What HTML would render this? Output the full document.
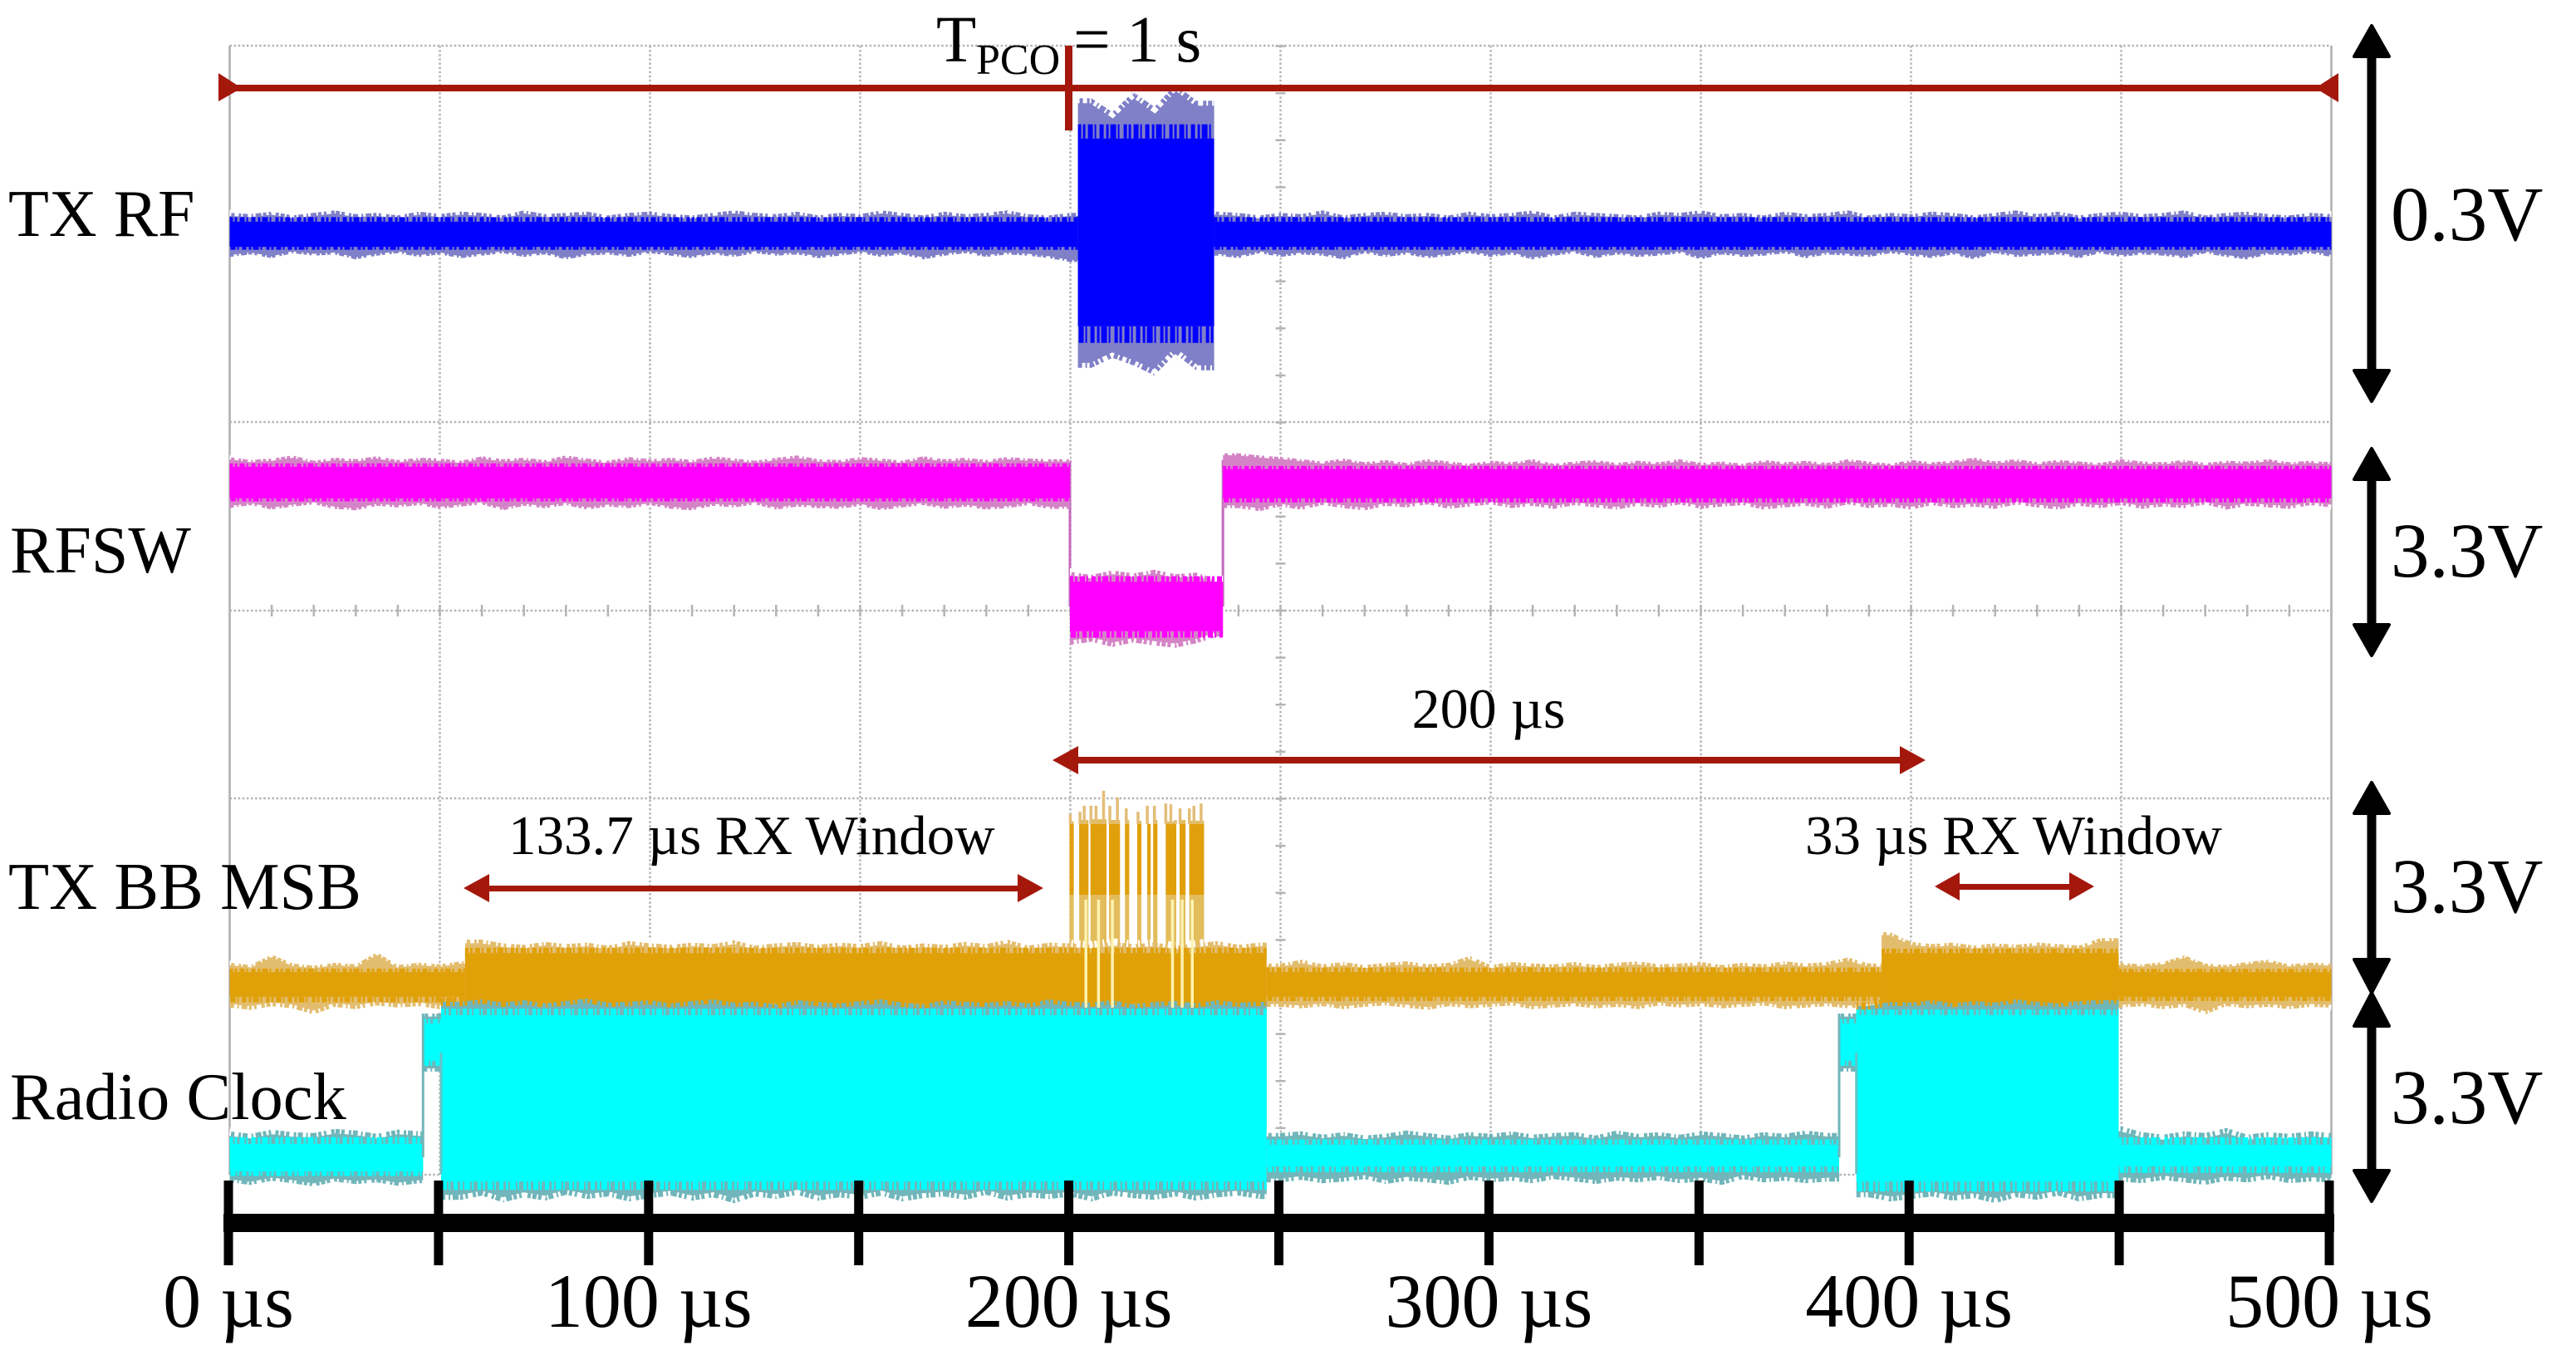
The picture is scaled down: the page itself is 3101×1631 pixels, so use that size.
<!DOCTYPE html>
<html lang="en">
<head>
<meta charset="utf-8">
<title>Radio timing oscilloscope capture</title>
<style>
  html, body { margin: 0; padding: 0; background: #ffffff; }
  svg { display: block; }
  text { font-family: "Liberation Serif", serif; fill: #000000; }
</style>
</head>
<body>
<svg id="chart" xmlns="http://www.w3.org/2000/svg" width="3101" height="1631" viewBox="0 0 3101 1631">
  <rect x="0" y="0" width="3101" height="1631" fill="#ffffff"/>
  <g id="grid"></g>
  <g id="traces"></g>

  <g>
    <rect x="263" y="102" width="2552" height="8" fill="#a4180c"/>
    <polygon points="263,88 263,122 291,106" fill="#a4180c"/>
    <polygon points="2815,88 2815,123 2787,106" fill="#a4180c"/>
    <rect x="1282" y="55" width="9" height="102" fill="#a4180c"/>
    <text font-size="79" y="74"><tspan x="1127">T</tspan><tspan x="1175" y="89" font-size="52">PCO</tspan><tspan x="1292" y="74">= 1 s</tspan></text>
  </g>

  <g>
    <rect x="1290" y="911" width="1000" height="8" fill="#a4180c"/>
    <polygon points="1267,915 1298,898 1298,932" fill="#a4180c"/>
    <polygon points="2318,915 2287,898 2287,932" fill="#a4180c"/>
    <text font-size="68" x="1792" y="876" text-anchor="middle">200 µs</text>

    <rect x="580" y="1066" width="650" height="7" fill="#a4180c"/>
    <polygon points="558,1069 589,1052 589,1086" fill="#a4180c"/>
    <polygon points="1256,1069 1225,1052 1225,1086" fill="#a4180c"/>
    <text font-size="67" x="612" y="1028">133.7 µs RX Window</text>

    <rect x="2350" y="1064" width="150" height="7" fill="#a4180c"/>
    <polygon points="2329,1067 2359,1050 2359,1084" fill="#a4180c"/>
    <polygon points="2521,1067 2491,1050 2491,1084" fill="#a4180c"/>
    <text font-size="67" x="2173" y="1028">33 µs RX Window</text>
  </g>

  <g>
    <text font-size="80" x="10" y="284">TX RF</text>
    <text font-size="80" x="12" y="689">RFSW</text>
    <text font-size="80.5" x="10" y="1094">TX BB MSB</text>
    <text font-size="80.5" x="12" y="1347">Radio Clock</text>
  </g>

  <g fill="#000000" stroke="#000000" stroke-width="4" stroke-linejoin="round">
    <g>
      <rect x="2851.5" y="60" width="7" height="395"/>
      <polygon points="2855,31 2876,68 2834,68"/><polygon points="2855,483 2876,446 2834,446"/>
    </g>
    <g>
      <rect x="2851.5" y="568" width="7" height="193"/>
      <polygon points="2855,540 2876,577 2834,577"/><polygon points="2855,789 2876,752 2834,752"/>
    </g>
    <g>
      <rect x="2851.5" y="970" width="7" height="195"/>
      <polygon points="2855,942 2876,979 2834,979"/><polygon points="2855,1195 2876,1155 2834,1155"/>
    </g>
    <g>
      <rect x="2851.5" y="1225" width="7" height="193"/>
      <polygon points="2855,1195 2876,1235 2834,1235"/><polygon points="2855,1446 2876,1409 2834,1409"/>
    </g>
  </g>
  <g>
    <text font-size="93" x="2878" y="289">0.3V</text>
    <text font-size="93" x="2878" y="694">3.3V</text>
    <text font-size="93" x="2878" y="1098">3.3V</text>
    <text font-size="93" x="2878" y="1352">3.3V</text>
  </g>

  <g id="xaxis"></g>
</svg>

<script>
// ---- Axis data ----
const axisTickTimes = [0, 50, 100, 150, 200, 250, 300, 350, 400, 450, 500];
const axisLabelTimes = [0, 100, 200, 300, 400, 500];
const axisLabels = ["0 µs", "100 µs", "200 µs", "300 µs", "400 µs", "500 µs"];
const sampleStep = 5; // µs between envelope samples below

// ---- TX RF (mV) ----
const txRfEdges = [0, 201.8, 234.2, 500];
const txRfCoreHi = [10, 76, 10];
const txRfCoreLo = [-10, -73, -10];
const txRfFringeHi = [
  17,16,18,15,17,19,16,17,15,18,
  16,18,17,15,19,16,17,18,15,17,
  18,16,15,17,19,17,16,18,15,17,
  16,19,17,15,18,16,17,19,16,15,
  17,108,97,113,101,119,106,18,17,15,
  17,16,19,15,17,18,16,17,15,18,
  16,17,19,15,18,17,16,15,18,17,
  19,16,17,15,18,16,17,19,15,17,
  16,18,17,15,17,19,16,18,15,17,
  18,16,17,19,15,17,18,16,15,17,
  16];
const txRfFringeLo = [
  -18,-16,-19,-15,-17,-16,-20,-17,-15,-18,
  -16,-19,-17,-15,-18,-16,-20,-17,-16,-18,
  -15,-17,-19,-16,-18,-15,-17,-16,-19,-17,
  -15,-18,-16,-20,-17,-15,-18,-16,-17,-19,
  -22,-106,-98,-104,-112,-95,-108,-17,-19,-15,
  -18,-16,-17,-20,-15,-18,-16,-19,-17,-15,
  -18,-16,-20,-17,-15,-19,-16,-18,-17,-15,
  -20,-16,-18,-17,-15,-19,-16,-17,-18,-15,
  -17,-19,-16,-20,-15,-18,-17,-16,-19,-15,
  -18,-16,-17,-19,-15,-18,-20,-16,-17,-15,
  -18];

// ---- RFSW (V) ----
const rfswEdges = [0, 199.9, 236.3, 500];
const rfswCoreHi = [3.72, 0.66, 3.66];
const rfswCoreLo = [2.88, -0.66, 2.88];
const rfswFringeHi = [
  3.98,3.90,3.94,4.02,3.88,3.96,3.92,4.00,3.90,3.96,
  3.94,3.88,4.00,3.92,3.96,3.90,4.02,3.94,3.88,3.98,
  3.92,3.96,3.90,4.00,3.94,3.88,3.96,4.02,3.92,3.90,
  3.98,3.94,3.88,4.00,3.92,3.96,3.90,3.98,3.94,3.92,
  0.92,0.84,0.96,0.88,0.98,0.86,0.90,0.72,4.08,4.02,
  3.98,3.92,3.86,3.94,3.84,3.90,3.82,3.92,3.86,3.80,
  3.88,3.84,3.92,3.80,3.86,3.90,3.82,3.88,3.84,3.92,
  3.82,3.86,3.80,3.90,3.84,3.88,3.82,3.92,3.86,3.80,
  3.90,3.84,3.88,3.96,3.86,3.92,3.84,3.90,3.86,3.82,
  3.92,3.86,3.84,3.90,3.82,3.88,3.86,3.92,3.84,3.88,
  3.84];
const rfswFringeLo = [
  2.62,2.70,2.58,2.66,2.72,2.60,2.56,2.68,2.64,2.70,
  2.60,2.66,2.72,2.56,2.68,2.62,2.70,2.58,2.66,2.62,
  2.70,2.60,2.56,2.68,2.64,2.72,2.58,2.66,2.62,2.60,
  2.68,2.56,2.64,2.70,2.60,2.66,2.58,2.62,2.70,2.60,
  -1.02,-0.94,-1.08,-0.96,-1.04,-1.10,-0.98,-0.80,2.62,2.54,
  2.66,2.58,2.70,2.62,2.56,2.68,2.64,2.72,2.60,2.66,
  2.72,2.62,2.68,2.60,2.70,2.64,2.58,2.68,2.62,2.72,
  2.60,2.66,2.70,2.58,2.64,2.68,2.60,2.72,2.62,2.66,
  2.58,2.70,2.62,2.66,2.60,2.72,2.64,2.58,2.68,2.62,
  2.70,2.60,2.66,2.62,2.72,2.58,2.68,2.64,2.60,2.70,
  2.64];
const rfswEdgeTimes = [199.9, 236.3];

// ---- TX BB MSB (V) ----
const bbEdges = [0, 56, 246.7, 393, 449.4, 500];
const bbCoreHi = [0.33, 0.84, 0.33, 0.84, 0.33];
const bbCoreLo = [-0.33, -0.50, -0.33, -0.50, -0.33];
const bbFringeHi = [
  0.58,0.52,0.80,0.56,0.50,0.58,0.54,0.86,0.52,0.58,
  0.54,0.62,1.20,1.10,1.06,1.14,1.08,1.12,1.04,1.16,
  1.10,1.06,1.12,1.08,1.18,1.04,1.10,1.14,1.06,1.12,
  1.08,1.16,1.04,1.10,1.06,1.14,1.08,1.20,1.04,1.12,
  1.10,1.06,1.14,1.08,1.12,1.04,1.10,1.16,1.06,1.12,
  0.56,0.66,0.54,0.60,0.52,0.58,0.62,0.54,0.58,0.76,
  0.52,0.60,0.56,0.54,0.60,0.52,0.58,0.62,0.54,0.56,
  0.60,0.52,0.58,0.54,0.62,0.56,0.60,0.72,0.56,1.40,
  1.14,1.08,1.12,1.04,1.10,1.06,1.12,1.08,1.04,1.24,
  0.58,0.54,0.60,0.78,0.56,0.52,0.60,0.66,0.54,0.58,
  0.56];
const bbFringeLo = [
  -0.62,-0.68,-0.58,-0.64,-0.80,-0.60,-0.66,-0.56,-0.62,-0.58,
  -0.66,-0.60,-0.70,-0.66,-0.72,-0.68,-0.64,-0.70,-0.74,-0.66,
  -0.70,-0.64,-0.68,-0.72,-0.66,-0.70,-0.74,-0.64,-0.68,-0.70,
  -0.66,-0.72,-0.68,-0.64,-0.70,-0.66,-0.72,-0.68,-0.74,-0.66,
  -0.70,-0.66,-0.68,-0.72,-0.64,-0.70,-0.66,-0.72,-0.68,-0.70,
  -0.60,-0.64,-0.58,-0.66,-0.60,-0.56,-0.62,-0.68,-0.58,-0.64,
  -0.60,-0.56,-0.66,-0.62,-0.58,-0.64,-0.60,-0.66,-0.56,-0.62,
  -0.58,-0.64,-0.60,-0.56,-0.66,-0.62,-0.58,-0.64,-0.60,-0.72,
  -0.66,-0.70,-0.64,-0.72,-0.68,-0.66,-0.70,-0.64,-0.68,-0.66,
  -0.62,-0.58,-0.66,-0.60,-0.80,-0.58,-0.64,-0.60,-0.66,-0.60,
  -0.62];
const bbPulseStart = [199.8, 202.1, 204.8, 209.2, 213.0, 215.9, 218.3, 219.7, 222.7, 226.0, 228.3];
const bbPulseEnd = [200.8, 204.3, 208.6, 211.8, 214.0, 216.9, 219.1, 220.7, 225.2, 227.4, 231.8];
const bbPulseTop = [4.36, 4.40, 4.42, 4.40, 4.40, 4.38, 4.30, 4.40, 4.36, 4.40, 4.38];
const bbSpikeTimes = [200.0, 202.3, 203.3, 204.9, 206.1, 207.9, 209.4, 211.2, 213.3, 216.1, 218.3, 220.0, 222.7, 223.9, 225.0, 226.1, 228.3, 229.4, 231.1];
const bbSpikeTops = [4.56, 4.62, 4.78, 4.78, 4.78, 5.18, 4.78, 5.00, 4.71, 4.62, 4.78, 4.78, 4.84, 4.82, 4.40, 4.71, 4.71, 4.78, 4.84];
const bbBurstGapTimes = [203.7, 206.7, 210.0, 224.3, 226.6, 229.0];
const bbPulseCoreHi = 4.29;
const bbPulseCoreLo = 2.40;
const bbPulseBase = 0.78;
const bbGapTop = 2.27;
const bbGapBottom = -0.62;

// ---- Radio clock (V) ----
const clkEdges = [0, 46, 50.3, 246.7, 382.9, 387, 449.4, 500];
const clkCoreHi = [0.32, 3.20, 3.40, 0.30, 3.20, 3.40, 0.30];
const clkCoreLo = [-0.34, 2.31, -0.58, -0.22, 2.31, -0.58, -0.22];
const clkFringeHi = [
  0.62,0.56,0.66,0.60,0.58,0.68,0.64,0.56,0.66,0.62,
  3.44,3.72,3.78,3.70,3.76,3.68,3.74,3.80,3.70,3.72,
  3.76,3.68,3.74,3.78,3.70,3.72,3.66,3.76,3.72,3.68,
  3.74,3.78,3.70,3.66,3.76,3.72,3.70,3.74,3.68,3.78,
  3.72,3.70,3.76,3.66,3.72,3.74,3.68,3.76,3.70,3.72,
  0.58,0.62,0.54,0.60,0.52,0.56,0.64,0.58,0.52,0.60,
  0.56,0.62,0.54,0.58,0.60,0.52,0.64,0.56,0.60,0.54,
  0.62,0.58,0.52,0.60,0.56,0.64,0.58,3.44,3.62,3.72,
  3.70,3.76,3.68,3.74,3.70,3.78,3.72,3.68,3.74,3.76,
  0.74,0.60,0.54,0.62,0.58,0.70,0.54,0.60,0.56,0.62,
  0.58];
const clkFringeLo = [
  -0.60,-0.66,-0.56,-0.62,-0.70,-0.58,-0.64,-0.60,-0.68,-0.62,
  2.05,-1.02,-0.92,-1.08,-0.96,-1.04,-0.90,-1.00,-0.94,-1.06,
  -0.98,-0.92,-1.04,-0.96,-1.10,-0.94,-1.00,-0.90,-1.04,-0.96,
  -1.02,-0.92,-1.06,-0.98,-0.94,-1.02,-0.90,-1.04,-0.96,-1.00,
  -0.94,-1.06,-0.92,-0.98,-1.02,-0.94,-1.04,-0.96,-0.92,-1.00,
  -0.60,-0.54,-0.62,-0.58,-0.52,-0.64,-0.56,-0.60,-0.66,-0.54,
  -0.60,-0.56,-0.62,-0.52,-0.58,-0.64,-0.56,-0.60,-0.54,-0.62,
  -0.58,-0.66,-0.52,-0.60,-0.56,-0.62,-0.58,2.05,-0.96,-1.06,
  -1.00,-0.94,-1.04,-0.98,-1.10,-0.96,-1.02,-0.92,-1.06,-0.98,
  -0.58,-0.62,-0.54,-0.60,-0.66,-0.56,-0.60,-0.52,-0.62,-0.58,
  -0.60];
const clkRiseTimes = [46, 382.9];
const clkFallTimes = [50.3, 387];
const clkEdgeLow = 0;
const clkEdgeHigh = 3.44;
const clkFallTop = 2.5;
const clkFallBottom = -0.4;

// ---- Axis functions ----
function xGrid(t) { return 276.5 + 5.06 * t; }
function xTick(t) { return 275 + 5.058 * t; }
function yTxRf(mv) { return 282 - 1.517 * mv; }
function yRfsw(v) { return 730 - 45.2 * v; }
function yBb(v) { return 1185 - 45 * v; }
function yClk(v) { return 1393 - 50.3 * v; }
const gridTop = 55, gridBottom = 1414, gridCenterY = 735, gridRowHeight = 453;

// Stroke patterns that break up the band edges into fine noise teeth
const notchDash = '2 4 5 3 2 6 4 2 3 7 2 4 3 3 6 4 2 5';
const toothDash = '4 2 3 3 6 2 2 4 5 3 3 2 7 2 2 5';
const notchMaxWidth = 12;
const toothMaxDepth = 20;

const NS = 'http://www.w3.org/2000/svg';
function make(tag, parent, attrs) {
  const el = document.createElementNS(NS, tag);
  for (const k in attrs) el.setAttribute(k, attrs[k]);
  parent.appendChild(el);
  return el;
}
function ptsString(points) {
  return points.map(function (p) { return p[0].toFixed(1) + ',' + p[1].toFixed(1); }).join(' ');
}

// ---- Grid ----
const gridGroup = document.getElementById('grid');
const dotStyle = { stroke: '#b4b4b4', 'stroke-width': 2.5, 'stroke-dasharray': '2.5 2.6', fill: 'none' };

for (let i = 0; i <= 3; i++) {
  const y = gridTop + i * gridRowHeight;
  const line = make('line', gridGroup, Object.assign({ x1: xGrid(0), x2: xGrid(500), y1: y, y2: y }, dotStyle));
  
  
}
const centerH = make('line', gridGroup, Object.assign({ x1: xGrid(0), x2: xGrid(500), y1: gridCenterY, y2: gridCenterY }, dotStyle));



axisTickTimes.forEach(function (t) {
  const edge = (t === 0 || t === 500);
  const line = make('line', gridGroup, edge
    ? { x1: xGrid(t), x2: xGrid(t), y1: gridTop, y2: gridBottom, stroke: '#aeaeae', 'stroke-width': 2.5 }
    : Object.assign({ x1: xGrid(t), x2: xGrid(t), y1: gridTop, y2: gridBottom }, dotStyle));
  
  
});

for (let t = 0; t <= 500; t += 10) {
  const tick = make('line', gridGroup, { x1: xGrid(t), x2: xGrid(t), y1: gridCenterY - 7, y2: gridCenterY + 7, stroke: '#b4b4b4', 'stroke-width': 2.5 });
  
  
}
for (let i = -12; i <= 12; i++) {
  const y = gridCenterY + i * gridRowHeight / 8;
  const tick = make('line', gridGroup, { x1: xGrid(250) - 6, x2: xGrid(250) + 6, y1: y, y2: y, stroke: '#b4b4b4', 'stroke-width': 2.5 });
  
  
}

// ---- Traces ----
const traceGroup = document.getElementById('traces');

function drawTrace(name, edges, coreHi, coreLo, fringeHi, fringeLo, yFn, fringeColor, coreColor, notchHiColors) {
  const group = make('g', traceGroup, {});
  
  
  for (let s = 0; s < edges.length - 1; s++) {
    const a = edges[s], b = edges[s + 1];
    const i0 = Math.ceil(a / sampleStep), i1 = Math.floor(b / sampleStep);
    const top = [[xGrid(a), yFn(fringeHi[i0])]];
    const bot = [[xGrid(a), yFn(fringeLo[i0])]];
    for (let i = i0; i <= i1; i++) {
      top.push([xGrid(i * sampleStep), yFn(fringeHi[i])]);
      bot.push([xGrid(i * sampleStep), yFn(fringeLo[i])]);
    }
    top.push([xGrid(b), yFn(fringeHi[i1])]);
    bot.push([xGrid(b), yFn(fringeLo[i1])]);

    const fringe = make('polygon', group, { points: ptsString(top.concat(bot.slice().reverse())), fill: fringeColor });
    
    

    const yHi = yFn(coreHi[s]), yLo = yFn(coreLo[s]);
    const depthHi = Math.max(3, yHi - yFn(fringeHi[Math.round((i0 + i1) / 2)]));
    const depthLo = Math.max(3, yFn(fringeLo[Math.round((i0 + i1) / 2)]) - yLo);

    // notches cut out of the outer edge of the envelope
    const notchHi = make('polyline', group, {
      points: ptsString(top), fill: 'none',
      stroke: notchHiColors ? notchHiColors[s] : '#ffffff',
      'stroke-width': Math.min(depthHi * 0.6, notchMaxWidth), 'stroke-dasharray': notchDash
    });
    
    
    const notchLo = make('polyline', group, {
      points: ptsString(bot), fill: 'none', stroke: '#ffffff',
      'stroke-width': Math.min(depthLo * 0.6, notchMaxWidth), 'stroke-dasharray': notchDash, 'stroke-dashoffset': 17
    });
    
    

    const core = make('rect', group, { x: xGrid(a), width: xGrid(b) - xGrid(a), y: yHi, height: yLo - yHi, fill: coreColor });
    
    

    // teeth of the solid band reaching into the envelope
    const th = Math.min(depthHi * 0.45, toothMaxDepth), tl = Math.min(depthLo * 0.45, toothMaxDepth);
    const toothHi = make('line', group, {
      x1: xGrid(a), x2: xGrid(b), y1: yHi - th / 2, y2: yHi - th / 2,
      stroke: coreColor, 'stroke-width': th, 'stroke-dasharray': toothDash
    });
    
    
    const toothLo = make('line', group, {
      x1: xGrid(a), x2: xGrid(b), y1: yLo + tl / 2, y2: yLo + tl / 2,
      stroke: coreColor, 'stroke-width': tl, 'stroke-dasharray': toothDash, 'stroke-dashoffset': 11
    });
    
    
  }
  return group;
}

drawTrace('tx-rf', txRfEdges, txRfCoreHi, txRfCoreLo, txRfFringeHi, txRfFringeLo, yTxRf, '#8080c8', '#0000ff');

rfswEdgeTimes.forEach(function (t) {
  const edge = make('line', traceGroup, { x1: xGrid(t), x2: xGrid(t), y1: yRfsw(3.9), y2: yRfsw(0), stroke: '#c468bc', 'stroke-width': 3 });
  
  
});
drawTrace('rfsw', rfswEdges, rfswCoreHi, rfswCoreLo, rfswFringeHi, rfswFringeLo, yRfsw, '#d484c6', '#ff00ff');

bbPulseStart.forEach(function (start, i) {
  const end = bbPulseEnd[i];
  const light = make('rect', traceGroup, {
    x: xGrid(start), width: xGrid(end) - xGrid(start),
    y: yBb(bbPulseTop[i]), height: yBb(bbPulseBase) - yBb(bbPulseTop[i]), fill: '#e3bc5c'
  });
  
  
  const core = make('rect', traceGroup, {
    x: xGrid(start), width: xGrid(end) - xGrid(start),
    y: yBb(bbPulseCoreHi), height: yBb(bbPulseCoreLo) - yBb(bbPulseCoreHi), fill: '#e0a00c'
  });
  
  
});
bbSpikeTimes.forEach(function (t, i) {
  const spike = make('line', traceGroup, { x1: xGrid(t), x2: xGrid(t), y1: yBb(bbSpikeTops[i]), y2: yBb(bbPulseCoreHi), stroke: '#e3bd78', 'stroke-width': 3.5 });
  
  
});

drawTrace('tx-bb-msb', bbEdges, bbCoreHi, bbCoreLo, bbFringeHi, bbFringeLo, yBb, '#e3bd6e', '#e0a008');

const amber = '#e0a008';
drawTrace('radio-clock', clkEdges, clkCoreHi, clkCoreLo, clkFringeHi, clkFringeLo, yClk, '#70b6ba', '#00ffff',
  ['#ffffff', '#ffffff', amber, '#ffffff', '#ffffff', amber, '#ffffff']);

clkRiseTimes.forEach(function (t) {
  const edge = make('line', traceGroup, { x1: xGrid(t), x2: xGrid(t), y1: yClk(clkEdgeHigh), y2: yClk(clkEdgeLow), stroke: '#70b6ba', 'stroke-width': 3 });
  
  
});
clkFallTimes.forEach(function (t) {
  const edge = make('line', traceGroup, { x1: xGrid(t), x2: xGrid(t), y1: yClk(clkFallTop), y2: yClk(clkFallBottom), stroke: '#62c4c8', 'stroke-width': 3 });
  
  
});

bbBurstGapTimes.forEach(function (t) {
  const gap = make('line', traceGroup, { x1: xGrid(t), x2: xGrid(t), y1: yBb(bbGapTop), y2: yBb(bbGapBottom), stroke: '#fdf3b0', 'stroke-width': 3.5 });
  
  
});

// ---- Time axis ----
const axisGroup = document.getElementById('xaxis');
const axisBar = make('rect', axisGroup, { x: xTick(0) - 6, y: 1461, width: xTick(500) - xTick(0) + 12, height: 22, fill: '#000000' });



axisTickTimes.forEach(function (t) {
  const tick = make('rect', axisGroup, { x: xTick(t) - 5.5, y: 1421, width: 11, height: 102, fill: '#000000' });
  
  
});

axisLabelTimes.forEach(function (t, i) {
  const label = make('text', axisGroup, { x: xTick(t), y: 1597, 'text-anchor': 'middle', 'font-size': 92 });
  label.textContent = axisLabels[i];
  
  
});
</script>
</body>
</html>
